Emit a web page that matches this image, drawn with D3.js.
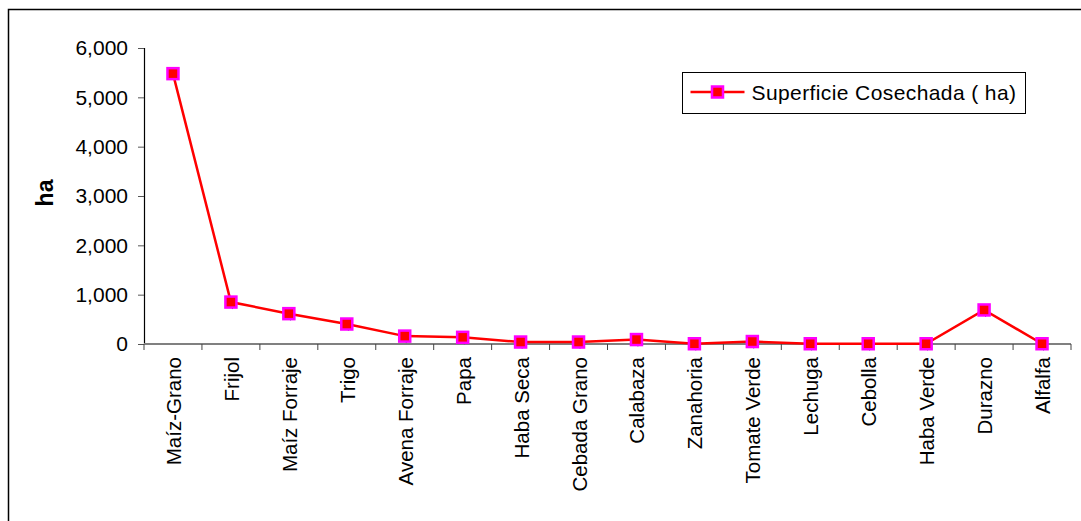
<!DOCTYPE html>
<html>
<head>
<meta charset="utf-8">
<script src="https://cdn.jsdelivr.net/npm/d3@7"></script>
<style>
  body { margin: 0; background: #fff; }
  svg { font-family: "Liberation Sans", Arial, sans-serif; display: block; }
</style>
</head>
<body>
<div id="chart"></div>
<script>
// Categories along the x axis
var cultivos = ["Maíz-Grano", "Frijol", "Maíz Forraje", "Trigo", "Avena Forraje", "Papa",
    "Haba Seca", "Cebada Grano", "Calabaza", "Zanahoria", "Tomate Verde", "Lechuga",
    "Cebolla", "Haba Verde", "Durazno", "Alfalfa"];

// Superficie cosechada (ha)
var superficie = [5480, 850, 615, 405, 160, 135, 40, 40, 90, 5, 50, 5, 5, 5, 690, 5];

var yTicks = [0, 1000, 2000, 3000, 4000, 5000, 6000];
var serieNombre = "Superficie Cosechada ( ha)";

var W = 1081, H = 521;
var svg = d3.select("#chart").append("svg")
    .attr("width", W)
    .attr("height", H);

// Outer frame (only left and top edges visible)
svg.append("rect")
    .attr("x", 8.5).attr("y", 9.5)
    .attr("width", W + 20).attr("height", H + 20)
    .attr("fill", "none")
    .attr("stroke", "#000")
    .attr("stroke-width", 1.5);

var margin = {left: 144, top: 48, right: 10, bottom: 177};
var width = 1071 - margin.left;
var height = 344 - margin.top;

var chart = svg.append("g")
    .attr("transform", "translate(" + margin.left + "," + margin.top + ")");

var x = d3.scaleBand()
    .domain(cultivos)
    .range([0, width]);

var y = d3.scaleLinear()
    .domain([0, 6000])
    .range([height, 0]);

// Y axis
var yAxis = chart.append("g")
    .call(d3.axisLeft(y).tickValues(yTicks).tickFormat(d3.format(",")).tickSize(6).tickPadding(10));
yAxis.select(".domain").attr("stroke", "#000").attr("stroke-width", 1.2);
yAxis.selectAll(".tick line").attr("stroke", "#555");
yAxis.selectAll("text")
    .style("font-size", "21px")
    .attr("fill", "#000");

// X axis: ticks at category boundaries
var bounds = d3.range(cultivos.length + 1).map(function (i) { return i * x.bandwidth(); });
var xg = chart.append("g").attr("transform", "translate(0," + height + ")");
xg.append("line")
    .attr("x1", 0).attr("x2", width)
    .attr("stroke", "#808080").attr("stroke-width", 2);
xg.selectAll("line.tk")
    .data(bounds)
    .enter().append("line")
    .attr("class", "tk")
    .attr("x1", function (d) { return d; })
    .attr("x2", function (d) { return d; })
    .attr("y1", 0).attr("y2", 6)
    .attr("stroke", "#444");
xg.selectAll("text")
    .data(cultivos)
    .enter().append("text")
    .attr("transform", function (d) {
        return "translate(" + (x(d) + x.bandwidth() / 2 + 8) + ",13) rotate(-90)";
    })
    .attr("text-anchor", "end")
    .style("font-size", "20.5px")
    .text(function (d) { return d; });

// Y title
svg.append("text")
    .attr("transform", "translate(53,193) rotate(-90)")
    .attr("text-anchor", "middle")
    .style("font-size", "23px")
    .style("font-weight", "bold")
    .text("ha");

var cx = function (d, i) { return x(cultivos[i]) + x.bandwidth() / 2; };

// Small navy diamonds peeking from behind the markers
chart.selectAll("path.dm")
    .data(superficie)
    .enter().append("path")
    .attr("class", "dm")
    .attr("d", d3.symbol().type(d3.symbolDiamond).size(30))
    .attr("transform", function (d, i) { return "translate(" + (cx(d, i) + 1.5) + "," + (y(d) + 2) + ")"; })
    .attr("fill", "#000080");

// Line
chart.append("path")
    .datum(superficie)
    .attr("fill", "none")
    .attr("stroke", "#ff0000")
    .attr("stroke-width", 2.5)
    .attr("d", d3.line().x(cx).y(function (d) { return y(d); }));

// Markers
chart.selectAll("rect.mk")
    .data(superficie)
    .enter().append("rect")
    .attr("class", "mk")
    .attr("x", function (d, i) { return cx(d, i) - 5.5; })
    .attr("y", function (d) { return y(d) - 5.5; })
    .attr("width", 11).attr("height", 11)
    .attr("fill", "#ff0000")
    .attr("stroke", "#ff00ff")
    .attr("stroke-width", 2.5);

// Legend
var legend = svg.append("g").attr("transform", "translate(682.5,72.5)");
legend.append("rect")
    .attr("width", 343).attr("height", 41)
    .attr("fill", "#fff")
    .attr("stroke", "#000")
    .attr("stroke-width", 1);
legend.append("line")
    .attr("x1", 8).attr("x2", 62)
    .attr("y1", 19.5).attr("y2", 19.5)
    .attr("stroke", "#ff0000").attr("stroke-width", 2.5);
legend.append("rect")
    .attr("x", 29.5).attr("y", 14)
    .attr("width", 11).attr("height", 11)
    .attr("fill", "#ff0000")
    .attr("stroke", "#ff00ff")
    .attr("stroke-width", 2.5);
legend.append("text")
    .attr("x", 69).attr("y", 27)
    .style("font-size", "21px")
    .style("letter-spacing", "0.4px")
    .text(serieNombre);
</script>
</body>
</html>
